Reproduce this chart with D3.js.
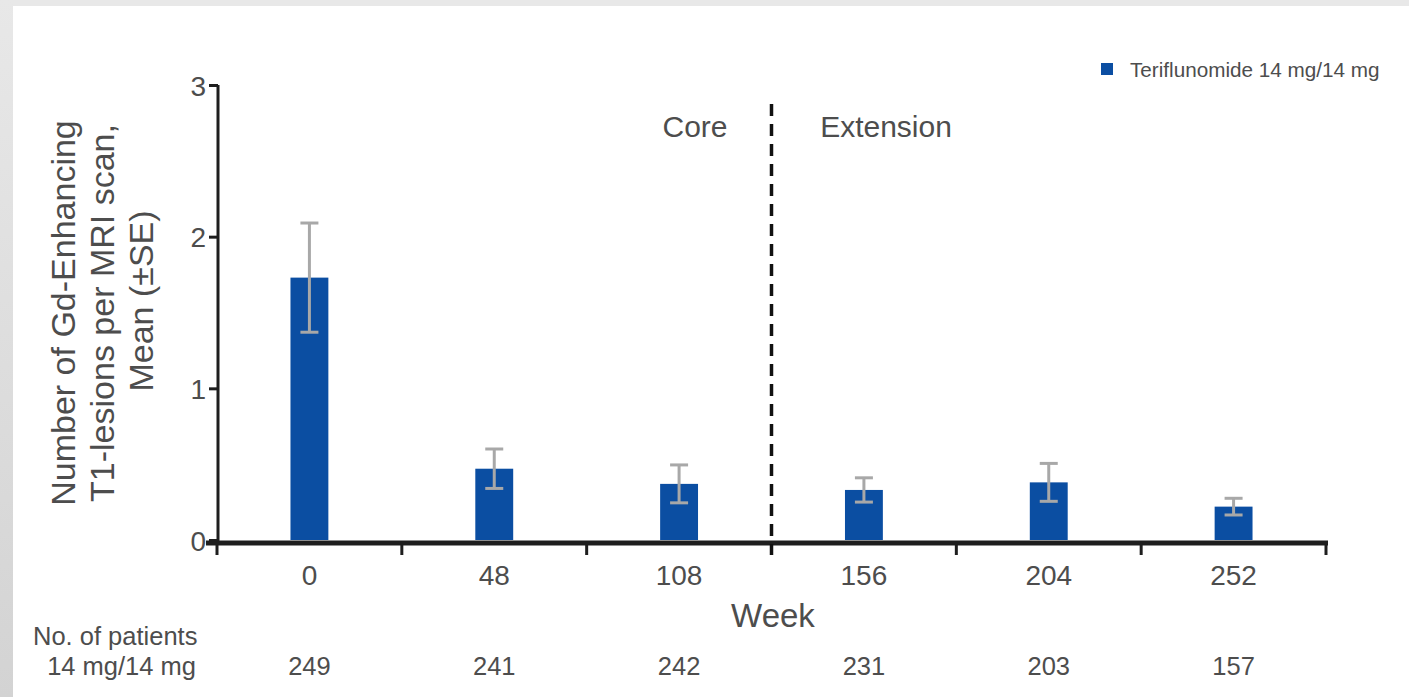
<!DOCTYPE html>
<html>
<head>
<meta charset="utf-8">
<script src="https://cdn.jsdelivr.net/npm/d3@7/dist/d3.min.js"></script>
<style>
  html, body { margin: 0; padding: 0; background: #e6e6e6; }
  svg { display: block; }
  svg text { font-family: "Liberation Sans", Arial, sans-serif; }
</style>
</head>
<body>
<svg id="chart" width="1409" height="697"></svg>
<script>
// Gd-enhancing T1 lesions per MRI scan by study week
const weeks = ["0", "48", "108", "156", "204", "252"];
const means = [1.73, 0.47, 0.37, 0.33, 0.38, 0.22];
const se = [0.36, 0.13, 0.125, 0.08, 0.125, 0.055];
const patients = [249, 241, 242, 231, 203, 157];
const yTicks = [0, 1, 2, 3];
const seriesName = "Teriflunomide 14 mg/14 mg";
const phaseLabels = ["Core", "Extension"];

const barColor = "#0b4ea2";
const errColor = "#a8a8a8";
const textColor = "#4d4d4d";
const axisColor = "#1e1e1e";

const svg = d3.select("#chart");

// grey frame with a slightly darker left edge, white panel inside
const defs = svg.append("defs");
const grad = defs.append("linearGradient").attr("id", "edge").attr("x1", 0).attr("y1", 0).attr("x2", 0).attr("y2", 1);
grad.append("stop").attr("offset", "0%").attr("stop-color", "#e8e8e8");
grad.append("stop").attr("offset", "100%").attr("stop-color", "#d3d3d3");
svg.append("rect").attr("x", 0).attr("y", 0).attr("width", 1409).attr("height", 697).attr("fill", "#e8e8e8");
svg.append("rect").attr("x", 0).attr("y", 0).attr("width", 13).attr("height", 697).attr("fill", "url(#edge)");
svg.append("rect").attr("x", 13).attr("y", 6).attr("width", 1409 - 13).attr("height", 697 - 6).attr("fill", "#ffffff");

const x = d3.scaleBand().domain(weeks).range([217, 1326]).paddingInner(0).paddingOuter(0);
const y = d3.scaleLinear().domain([0, 3]).range([540, 85]);
const bw = x.bandwidth();
const barW = bw * 0.205;

// bars
svg.append("g").selectAll("rect").data(weeks).join("rect")
  .attr("x", d => x(d) + bw / 2 - barW / 2)
  .attr("y", (d, i) => y(means[i]))
  .attr("width", barW)
  .attr("height", (d, i) => y(0) - y(means[i]))
  .attr("fill", barColor);

// error bars (mean ± SE)
const eg = svg.append("g").attr("stroke", errColor).attr("stroke-width", 3);
weeks.forEach((d, i) => {
  const cx = x(d) + bw / 2;
  const hi = y(means[i] + se[i]), lo = y(means[i] - se[i]);
  eg.append("line").attr("x1", cx).attr("x2", cx).attr("y1", hi).attr("y2", lo);
  eg.append("line").attr("x1", cx - 9).attr("x2", cx + 9).attr("y1", hi).attr("y2", hi);
  eg.append("line").attr("x1", cx - 9).attr("x2", cx + 9).attr("y1", lo).attr("y2", lo);
});

// y axis
const yAxis = svg.append("g").attr("transform", "translate(218,0)")
  .call(d3.axisLeft(y).tickValues(yTicks).tickSize(9).tickPadding(3).tickFormat(d3.format("d")));
yAxis.select(".domain").attr("d", `M0,${y(3)}H0V${y(0) + 5}`).attr("stroke", axisColor).attr("stroke-width", 3);
yAxis.selectAll(".tick line").attr("stroke", axisColor).attr("stroke-width", 3);
yAxis.selectAll(".tick text").attr("fill", textColor).attr("font-family", null)
  .style("font-size", "28px").attr("dy", "0.36em");

// x axis: thick baseline, ticks at band boundaries, labels at band centres
const axisY = y(0) + 3;
const boundaries = weeks.map(d => x(d)).concat([x(weeks[weeks.length - 1]) + bw]);
svg.append("line").attr("x1", 206).attr("x2", 1328).attr("y1", axisY).attr("y2", axisY)
  .attr("stroke", axisColor).attr("stroke-width", 5);
svg.append("g").selectAll("line").data(boundaries).join("line")
  .attr("x1", d => d).attr("x2", d => d).attr("y1", axisY).attr("y2", axisY + 12)
  .attr("stroke", axisColor).attr("stroke-width", 3);
svg.append("g").selectAll("text").data(weeks).join("text")
  .attr("x", d => x(d) + bw / 2).attr("y", 585)
  .attr("text-anchor", "middle").attr("fill", textColor).style("font-size", "28px")
  .text(d => d);

svg.append("text").attr("x", 773).attr("y", 627).attr("text-anchor", "middle")
  .attr("fill", textColor).style("font-size", "33px").text("Week");

// core / extension divider
const divX = x("156");
svg.append("line").attr("x1", divX).attr("x2", divX).attr("y1", 104).attr("y2", axisY + 12)
  .attr("stroke", "#111").attr("stroke-width", 3.5).attr("stroke-dasharray", "12,8");
svg.append("text").attr("x", 695).attr("y", 137).attr("text-anchor", "middle")
  .attr("fill", textColor).style("font-size", "30px").text(phaseLabels[0]);
svg.append("text").attr("x", 886).attr("y", 137).attr("text-anchor", "middle")
  .attr("fill", textColor).style("font-size", "30px").text(phaseLabels[1]);

// y axis title
const yt = svg.append("text").attr("transform", "translate(100,313) rotate(-90)")
  .attr("text-anchor", "middle").attr("fill", textColor).style("font-size", "34px");
["Number of Gd-Enhancing", "T1-lesions per MRI scan,", "Mean (±SE)"].forEach((t, i) => {
  yt.append("tspan").attr("x", i === 2 ? 12 : 0).attr("y", -25 + i * 39).text(t);
});

// number of patients row
svg.append("text").attr("x", 33).attr("y", 645).attr("fill", textColor).style("font-size", "25.5px").text("No. of patients");
svg.append("text").attr("x", 196).attr("y", 675).attr("text-anchor", "end").attr("fill", textColor).style("font-size", "25.5px").text("14 mg/14 mg");
svg.append("g").selectAll("text").data(weeks).join("text")
  .attr("x", d => x(d) + bw / 2).attr("y", 675)
  .attr("text-anchor", "middle").attr("fill", textColor).style("font-size", "25.5px")
  .text((d, i) => patients[i]);

// legend
svg.append("rect").attr("x", 1101).attr("y", 63).attr("width", 12).attr("height", 12).attr("fill", barColor);
svg.append("text").attr("x", 1130).attr("y", 77).attr("fill", textColor).style("font-size", "20.7px").text(seriesName);
</script>
</body>
</html>
